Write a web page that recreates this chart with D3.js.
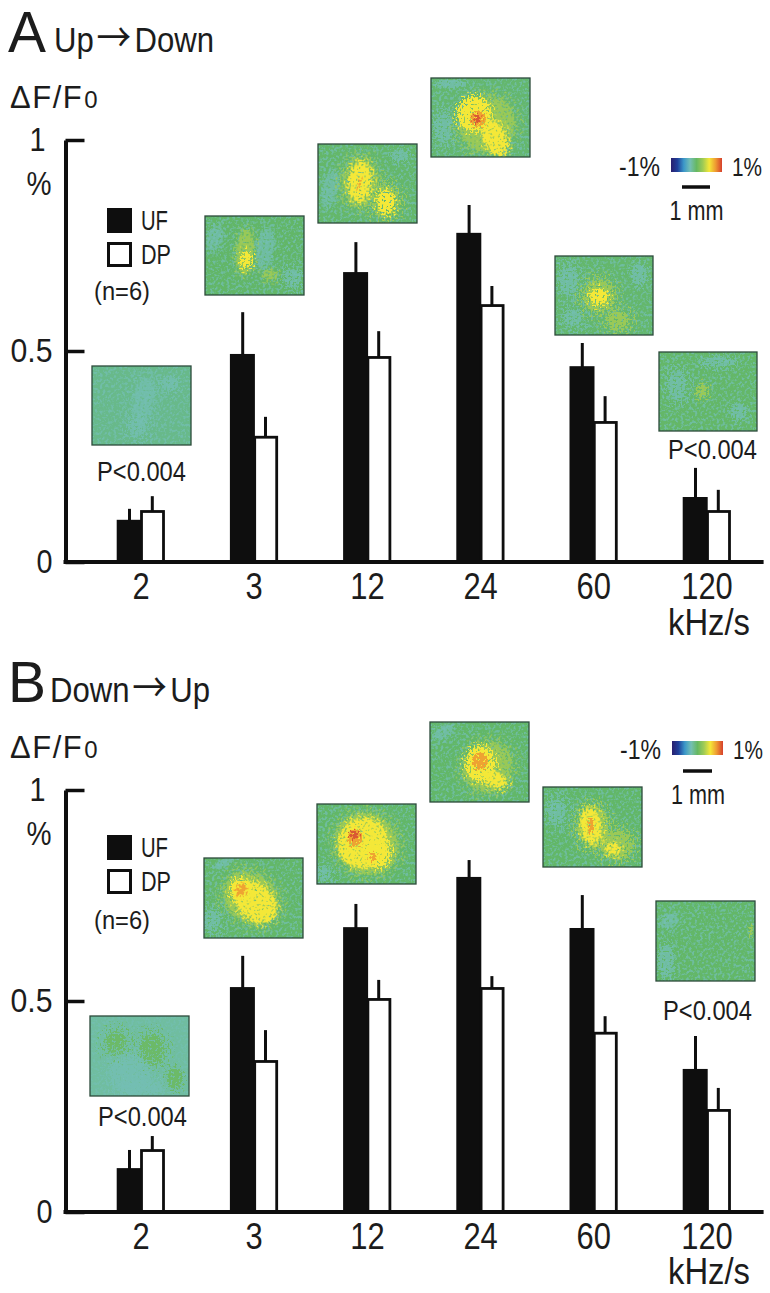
<!DOCTYPE html>
<html><head><meta charset="utf-8">
<script src="https://cdn.jsdelivr.net/npm/d3@7/dist/d3.min.js"></script>
<style>html,body{margin:0;padding:0;background:#fff}svg{display:block}text{font-family:"Liberation Sans",Arial,sans-serif;fill:#1c1c1c}</style>
</head><body><svg id="c" width="770" height="1293"></svg>
<script>
const categories=["2","3","12","24","60","120"];
const ufA=[0.10,0.493,0.687,0.78,0.464,0.154];
const ufTopA=[0.126,0.592,0.758,0.846,0.519,0.223];
const dpA=[0.123,0.299,0.488,0.611,0.334,0.123];
const dpTopA=[0.156,0.344,0.547,0.654,0.393,0.171];
const ufB=[0.104,0.533,0.675,0.794,0.673,0.339];
const ufTopB=[0.147,0.607,0.73,0.834,0.751,0.417];
const dpB=[0.149,0.36,0.507,0.533,0.427,0.244];
const dpTopB=[0.18,0.431,0.55,0.559,0.464,0.294];
const yTicks=[0,0.5,1];
const levels={teal:"#74bfb4",halo:"#9fcb55",yellow:"#f4e838",orange:"#eea332",red:"#d95a33",green:"#6cba62"};
const levelAlpha={teal:0.75,halo:0.9,yellow:1,orange:1,red:1,green:0.9};
const scaleStops=["#2a1f6e","#1f3f9a","#3b97c9","#74bfb4","#66b862","#9fcb55","#f4e838","#ee9a32","#d6402c"];
// thumbnails: [x,y,w,h] and patches [level,cx,cy,rx,ry,rotation]
const thumbsA=[
 {box:[92,366,99,79],base:"#68b98a",patches:[["teal",52,34,12,26,10],["teal",46,62,10,12,0],["teal",78,18,10,8,0]]},
 {box:[205,216,99,79],base:"#62b668",patches:[["teal",60,33,9,22,8],["teal",10,22,8,14,20],["teal",88,62,10,12,0],["halo",40,36,9,24,5],["halo",65,59,9,5,10],["yellow",41,44,6,10,0]]},
 {box:[318,144,99,79],base:"#64b76a",patches:[["teal",12,45,8,20,15],["teal",82,12,10,6,0],["halo",42,38,18,27,5],["halo",68,58,15,19,0],["yellow",42,38,12,21,5],["yellow",68,58,9,13,0],["orange",42,40,1.5,6,15]]},
 {box:[431,78,99,79],base:"#64b76e",patches:[["teal",12,50,10,18,0],["teal",20,6,16,4,0],["halo",56,46,28,30,45],["yellow",43,36,17,18,0],["yellow",64,60,12,20,-25],["orange",47,41,8,8,0],["red",46,41,4,4,0]]},
 {box:[555,256,98,79],base:"#64b76c",patches:[["teal",14,25,10,18,0],["teal",18,62,12,10,0],["teal",84,18,8,12,0],["halo",44,40,17,18,0],["halo",63,65,14,11,0],["yellow",44,41,10,9,0]]},
 {box:[659,352,98,79],base:"#64b768",patches:[["teal",18,34,10,18,0],["teal",60,10,20,5,0],["teal",80,60,8,10,0],["halo",43,39,6,8,0]]}];
const thumbsB=[
 {box:[90,1016,99,80],base:"#70bda0",patches:[["green",26,27,12,14,0],["green",62,34,14,18,0],["green",85,62,8,12,0],["teal",40,58,22,22,0],["teal",52,72,24,8,0]]},
 {box:[204,858,99,80],base:"#63b768",patches:[["teal",8,62,10,14,0],["teal",20,5,12,4,-30],["halo",47,40,31,25,40],["yellow",51,44,25,18,42],["yellow",37,32,11,12,0],["orange",37,32,5,7,20]]},
 {box:[317,804,99,80],base:"#62b768",patches:[["teal",6,70,10,10,0],["halo",50,40,34,31,35],["yellow",46,39,25,26,30],["yellow",60,50,14,14,0],["orange",38,34,7,9,0],["red",37,31,5,4,0],["orange",56,53,4,4,0]]},
 {box:[430,722,99,80],base:"#62b768",patches:[["teal",14,10,14,6,-30],["halo",58,45,25,27,35],["yellow",50,42,15,18,0],["yellow",65,58,14,8,25],["orange",50,39,8,9,0]]},
 {box:[543,787,99,80],base:"#62b768",patches:[["teal",14,25,10,16,0],["halo",50,40,16,24,0],["halo",74,58,18,16,0],["yellow",48,39,11,19,-8],["yellow",70,62,9,6,20],["orange",48,39,3,8,0]]},
 {box:[656,901,99,80],base:"#63b768",patches:[["teal",10,60,8,18,0],["teal",14,20,10,8,-30],["halo",95,30,2,6,0]]}];
const panels=[
 {dy:0,letter:"A",t1:"Up",t2:"Down",tx:54,uf:ufA,ufT:ufTopA,dp:dpA,dpT:dpTopA,thumbs:thumbsA,bar:[671,158],scale:[682,710,187],
  p:[[141.5,481],[712.5,459]],n:[94,300],leg:[208,242],unit:635},
 {dy:650,letter:"B",t1:"Down",t2:"Up",tx:50,uf:ufB,ufT:ufTopB,dp:dpB,dpT:dpTopB,thumbs:thumbsB,bar:[672,741],scale:[683,712,771],
  p:[[142.5,1126],[707.5,1020]],n:[94,929],leg:[835,869],unit:1284}];

const svg=d3.select("#c");
const defs=svg.append("defs");
const grad=defs.append("linearGradient").attr("id","cb");
scaleStops.forEach((c,i)=>grad.append("stop").attr("offset",i/(scaleStops.length-1)).attr("stop-color",c));
function speckle(id,std){
  const f=defs.append("filter").attr("id",id).attr("filterUnits","userSpaceOnUse")
    .attr("x",-80).attr("y",-80).attr("width",160).attr("height",160).attr("color-interpolation-filters","sRGB");
  f.append("feGaussianBlur").attr("in","SourceGraphic").attr("stdDeviation",std).attr("result","b");
  f.append("feTurbulence").attr("type","fractalNoise").attr("baseFrequency",0.5).attr("numOctaves",2).attr("seed",4).attr("result","n");
  f.append("feColorMatrix").attr("in","n").attr("type","matrix").attr("values","0 0 0 0 0  0 0 0 0 0  0 0 0 0 0  3.2 0 0 0 -1.1").attr("result","nA");
  f.append("feComposite").attr("in","b").attr("in2","nA").attr("operator","arithmetic")
    .attr("k1",0).attr("k2",1).attr("k3",1).attr("k4",-1).attr("result","a");
  f.append("feComponentTransfer").attr("in","a").attr("result","t").append("feFuncA").attr("type","linear").attr("slope",10).attr("intercept",0);
  f.append("feComponentTransfer").attr("in","b").attr("result","solid").append("feFuncA").attr("type","linear").attr("slope",40).attr("intercept",0);
  f.append("feComposite").attr("in","solid").attr("in2","t").attr("operator","in");
}
speckle("spk6",6);
speckle("spk3",3);
speckle("spk1",1.4);
const sigmaFilter=d=>{
  const m=Math.min(d[3],d[4]);
  if(d[0]==="red"||d[0]==="orange"||m<5) return "url(#spk1)";
  if(d[0]==="yellow"||m<10) return "url(#spk3)";
  return "url(#spk6)";
};
const mottle=defs.append("filter").attr("id","mot").attr("x",0).attr("y",0).attr("width","100%").attr("height","100%").attr("color-interpolation-filters","sRGB");
mottle.append("feTurbulence").attr("type","fractalNoise").attr("baseFrequency",0.36).attr("numOctaves",2).attr("seed",9).attr("result","n");
mottle.append("feColorMatrix").attr("in","n").attr("type","matrix").attr("values","0 0 0 0 0.45  0 0 0 0 0.75  0 0 0 0 0.70  5 0 0 0 -2.4").attr("result","m");
mottle.append("feComposite").attr("in","m").attr("in2","SourceGraphic").attr("operator","in");

function label(g,t,x,y,size,w,anchor){
  const s=g.append("text").attr("x",x).attr("y",y).attr("font-size",size).attr("text-anchor",anchor||"start").text(t);
  if(w) s.attr("textLength",w).attr("lengthAdjust","spacingAndGlyphs");
  return s;
}

panels.forEach((P,pi)=>{
  const g=svg.append("g");
  const y=d3.scaleLinear().domain([0,1]).range([562+P.dy,140+P.dy]);
  const x=d3.scaleBand().domain(categories).range([84.4,763.6]);
  const bw=x.bandwidth(), cx=c=>x(c)+bw/2;

  P.thumbs.forEach((T,ti)=>{
    const [tx,ty,tw,th]=T.box, id=`cp${pi}${ti}`;
    defs.append("clipPath").attr("id",id).append("rect").attr("width",tw).attr("height",th);
    const t=g.append("g").attr("transform",`translate(${tx},${ty})`);
    const inner=t.append("g").attr("clip-path",`url(#${id})`);
    inner.append("rect").attr("width",tw).attr("height",th).attr("fill",T.base);
    inner.append("rect").attr("width",tw).attr("height",th).attr("fill","#000").attr("filter","url(#mot)").attr("opacity",0.75);
    inner.selectAll("ellipse").data(T.patches).join("ellipse")
      .attr("transform",d=>`translate(${d[1]},${d[2]}) rotate(${d[5]})`)
      .attr("rx",d=>d[3]).attr("ry",d=>d[4]).attr("fill",d=>levels[d[0]]).attr("opacity",d=>levelAlpha[d[0]])
      .attr("filter",sigmaFilter);
    t.append("rect").attr("width",tw).attr("height",th).attr("fill","none").attr("stroke","#2c4a3a").attr("stroke-width",1.3);
  });

  const ink="#0e0e0e";
  g.selectAll(".eu").data(categories).join("line").attr("x1",c=>cx(c)-11.5).attr("x2",c=>cx(c)-11.5)
    .attr("y1",(c,i)=>y(P.uf[i])+1).attr("y2",(c,i)=>y(P.ufT[i])).attr("stroke",ink).attr("stroke-width",3);
  g.selectAll(".ed").data(categories).join("line").attr("x1",c=>cx(c)+11.3).attr("x2",c=>cx(c)+11.3)
    .attr("y1",(c,i)=>y(P.dp[i])+1).attr("y2",(c,i)=>y(P.dpT[i])).attr("stroke",ink).attr("stroke-width",3);
  g.selectAll(".bu").data(categories).join("rect").attr("x",c=>cx(c)-24.3).attr("width",25)
    .attr("y",(c,i)=>y(P.uf[i])).attr("height",(c,i)=>y(0)-y(P.uf[i])).attr("fill",ink);
  g.selectAll(".bd").data(categories).join("rect").attr("x",c=>cx(c)+0.5).attr("width",22)
    .attr("y",(c,i)=>y(P.dp[i])+1.4).attr("height",(c,i)=>y(0)-y(P.dp[i])-1.4).attr("fill","#fff").attr("stroke",ink).attr("stroke-width",2.8);

  const ya=g.append("g").attr("transform","translate(65.5,0)")
    .call(d3.axisLeft(y).tickValues(yTicks).tickFormat(d=>d===0?"0":d===1?"1":"0.5").tickSize(-19).tickSizeOuter(0).tickPadding(13));
  ya.select(".domain").attr("stroke",ink).attr("stroke-width",4);
  ya.selectAll(".tick line").attr("stroke",ink).attr("stroke-width",3.5);
  ya.selectAll(".tick text").attr("font-size",34).attr("font-family","Liberation Sans").attr("fill","#1c1c1c")
    .attr("x",d=>d===1?-20:-13).attr("textLength",d=>d===0.5?42:16).attr("lengthAdjust","spacingAndGlyphs");
  const xa=g.append("g").attr("transform",`translate(0,${y(0)})`)
    .call(d3.axisBottom(x).tickSize(0).tickPadding(11.5));
  xa.select(".domain").remove();
  xa.selectAll(".tick text").attr("font-size",36).attr("font-family","Liberation Sans").attr("fill","#1c1c1c")
    .attr("textLength",d=>d.length*17.2).attr("lengthAdjust","spacingAndGlyphs");
  g.append("line").attr("x1",63.5).attr("x2",x.range()[1]).attr("y1",y(0)).attr("y2",y(0)).attr("stroke",ink).attr("stroke-width",4);

  const dy=P.dy;
  label(g,P.letter,8,52+dy,57,38);
  const title=g.append("text").attr("transform",`translate(${P.tx},${52+dy}) scale(0.865,1)`).attr("font-size",36);
  title.append("tspan").text(P.t1);
  title.append("tspan").attr("font-family","Noto Sans CJK JP").attr("font-size",40).attr("dx",3).text("→");
  title.append("tspan").attr("dx",4).text(P.t2);
  const df=g.append("text").attr("x",10).attr("y",108+dy).attr("font-size",31).attr("letter-spacing",1.5).text("ΔF/F");
  df.append("tspan").attr("font-size",24).attr("dx",1).attr("letter-spacing",0).text("0");
  label(g,"%",39,195+dy,34,25,"middle");
  label(g,"kHz/s",709,P.unit,37,82,"middle");
  P.p.forEach(p=>label(g,"P<0.004",p[0],p[1],27,89,"middle"));
  label(g,"(n=6)",P.n[0],P.n[1],26,56);

  g.append("rect").attr("x",107).attr("y",P.leg[0]).attr("width",25).attr("height",25).attr("fill",ink);
  g.append("rect").attr("x",108.5).attr("y",P.leg[1]+1.5).attr("width",22).attr("height",22).attr("fill","#fff").attr("stroke",ink).attr("stroke-width",3);
  label(g,"UF",141,P.leg[0]+22,27,27);
  label(g,"DP",141,P.leg[1]+22,27,30);

  const [bx,by]=P.bar;
  g.append("rect").attr("x",bx).attr("y",by).attr("width",51).attr("height",14).attr("fill","url(#cb)");
  label(g,"-1%",bx-11,by+18,27,41,"end");
  label(g,"1%",bx+61,by+18,25.5,30,"start");
  g.append("line").attr("x1",P.scale[0]).attr("x2",P.scale[1]).attr("y1",P.scale[2]).attr("y2",P.scale[2]).attr("stroke",ink).attr("stroke-width",3.5);
  label(g,"1 mm",(P.scale[0]+P.scale[1])/2+0.5,P.scale[2]+33,27,54,"middle");
});
</script></body></html>
